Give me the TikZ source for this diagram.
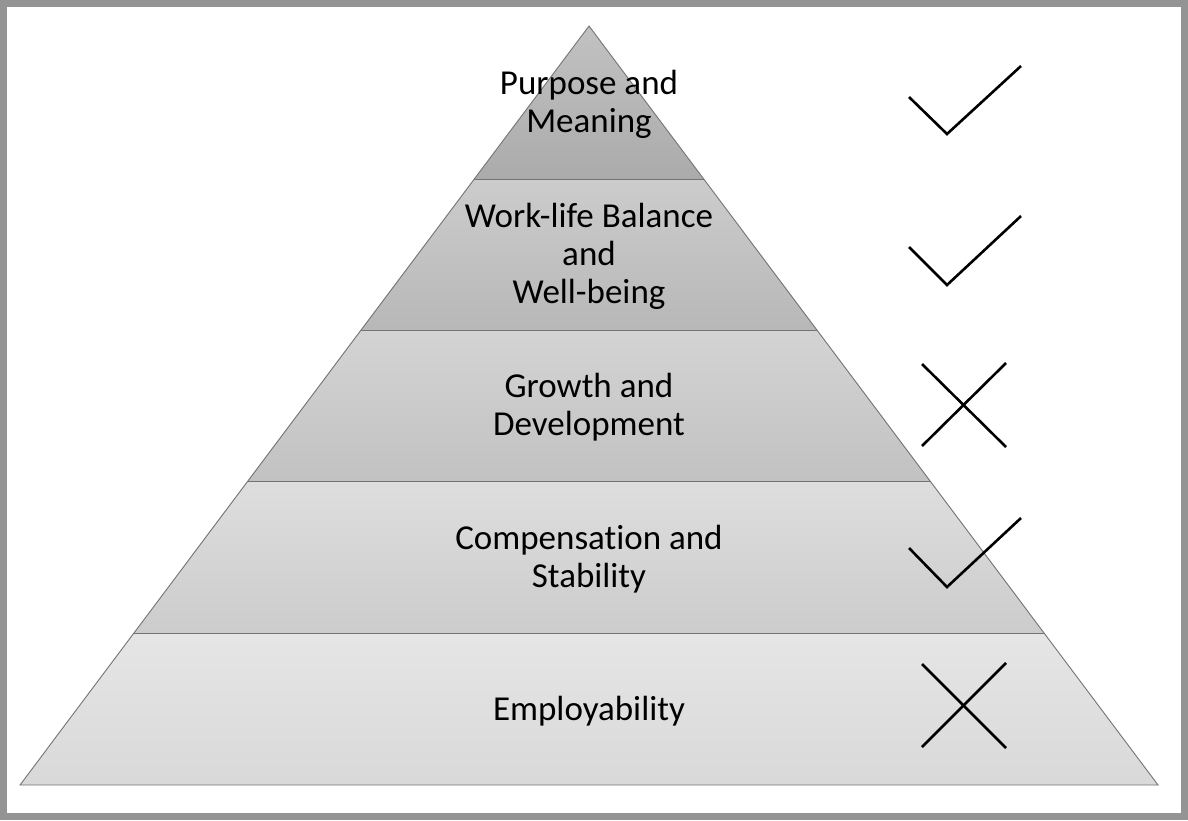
\documentclass[tikz,border=0pt]{standalone}
\usepackage{fontspec}
\setmainfont{Carlito}[Ligatures={NoCommon}]
\begin{document}
\begin{tikzpicture}[x=1pt,y=-1pt,
  layer/.style={draw=black!55, line width=0.9pt},
  lbl/.style={align=center, font=\fontsize{35}{38}\selectfont, text=black, inner sep=0pt},
  tickline/.style={draw=black, line width=2.6pt}
]
\useasboundingbox (0,0) rectangle (1188,820);
\fill[white] (0,0) rectangle (1188,820);
\draw[color=black!42, line width=7pt] (3.5,3.5) rectangle (1184.5,816);
% pyramid corner coordinates
\coordinate (A) at (589,26);
\coordinate (L1) at (474.3,179); \coordinate (R1) at (703.7,179);
\coordinate (L2) at (361.1,330); \coordinate (R2) at (816.9,330);
\coordinate (L3) at (247.9,481); \coordinate (R3) at (930.1,481);
\coordinate (L4) at (133.9,633); \coordinate (R4) at (1044.1,633);
\coordinate (L5) at (20,785);    \coordinate (R5) at (1158,785);
% layers
\shade[top color=black!24, bottom color=black!33] (A) -- (R1) -- (L1) -- cycle;
\shade[top color=black!20, bottom color=black!28] (L1) -- (R1) -- (R2) -- (L2) -- cycle;
\shade[top color=black!17, bottom color=black!24] (L2) -- (R2) -- (R3) -- (L3) -- cycle;
\shade[top color=black!13, bottom color=black!20] (L3) -- (R3) -- (R4) -- (L4) -- cycle;
\shade[top color=black!10, bottom color=black!15] (L4) -- (R4) -- (R5) -- (L5) -- cycle;
\draw[layer] (A) -- (R5) -- (L5) -- cycle;
\draw[layer] (L1) -- (R1);
\draw[layer] (L2) -- (R2);
\draw[layer] (L3) -- (R3);
\draw[layer] (L4) -- (R4);
% labels
\node[lbl] (t1) at (589,104.5) {Purpose and\\Meaning};
\node[lbl] (t2) at (589,256.5) {Work-life Balance\\and\\Well-being};
\node[lbl] (t3) at (589,407.5) {Growth and\\Development};
\node[lbl] (t4) at (589,559.5) {Compensation and\\Stability};
\node[lbl] (t5) at (589,711) {Employability};
% marks
\draw[tickline] (909,97) -- (947,134) -- (1021,66);
\draw[tickline] (909,247) -- (947,285) -- (1021,216);
\draw[tickline] (922,364) -- (1006,447);
\draw[tickline] (1006,363) -- (922,446);
\draw[tickline] (909,548) -- (947,587) -- (1021,518);
\draw[tickline] (922,664) -- (1006,748);
\draw[tickline] (1006,663) -- (922,747);
\end{tikzpicture}
\end{document}
